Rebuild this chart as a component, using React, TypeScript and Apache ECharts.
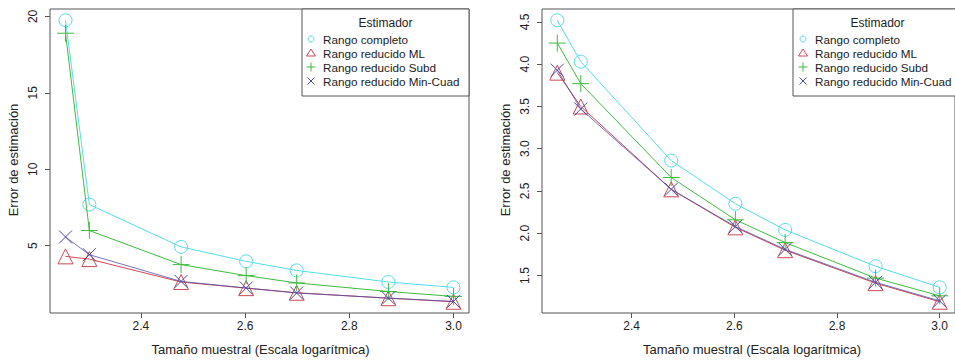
import React, { useEffect, useRef } from "react";
import * as echarts from "echarts";

const sampleSizes = [180, 200, 300, 400, 500, 750, 1000];
const seriesNames = [
  "Rango completo",
  "Rango reducido ML",
  "Rango reducido Subd",
  "Rango reducido Min-Cuad",
];

// Left panel
const completoL = [19.75, 7.69, 4.92, 3.97, 3.38, 2.62, 2.27];
const mlL = [4.3, 4.12, 2.62, 2.22, 1.92, 1.56, 1.33];
const subdL = [18.9, 5.99, 3.76, 3.04, 2.56, 2.0, 1.68];
const minCuadL = [5.57, 4.41, 2.66, 2.23, 1.9, 1.57, 1.35];

// Right panel
const completoR = [4.52, 4.03, 2.86, 2.35, 2.04, 1.61, 1.36];
const mlR = [3.9, 3.5, 2.52, 2.07, 1.8, 1.41, 1.19];
const subdR = [4.25, 3.77, 2.66, 2.16, 1.89, 1.47, 1.26];
const minCuadR = [3.93, 3.47, 2.52, 2.08, 1.81, 1.42, 1.2];

const xTicks = [2.4, 2.6, 2.8, 3.0];
const yTicksL = [5, 10, 15, 20];
const yTicksR = [1.5, 2.0, 2.5, 3.0, 3.5, 4.0, 4.5];

const COLORS = ["#55dde6", "#cc4a55", "#3fbb3f", "#4a4aa8"];
const PLUS = "path://M0,-10L0,10M-10,0L10,0";
const CROSS = "path://M-10,-10L10,10M-10,10L10,-10";
const SYMBOLS = ["circle", "triangle", PLUS, CROSS];
const SIZES = [13, 15, 17, 13];

const FONT = "Liberation Sans, Arial, sans-serif";

function rRange(vals: number[]) {
  const mn = Math.min(...vals);
  const mx = Math.max(...vals);
  const d = (mx - mn) * 0.04;
  return [mn - d, mx + d];
}

export default function App() {
  const ref = useRef<HTMLDivElement>(null);
  useEffect(() => {
    if (!ref.current) return;
    const chart = echarts.init(ref.current, null, { renderer: "svg" });
    const xs = sampleSizes.map((n) => Math.log10(n));
    const [xmin, xmax] = rRange(xs);
    const leftData = [completoL, mlL, subdL, minCuadL];
    const rightData = [completoR, mlR, subdR, minCuadR];
    const [ylMin, ylMax] = rRange(leftData.flat());
    const [yrMin, yrMax] = rRange(rightData.flat());

    const grids = [
      { left: 50, top: 9, width: 419, height: 304 },
      { left: 542, top: 9, width: 420, height: 304 },
    ];

    const xAxis = [0, 1].map((i) => ({
      type: "value",
      gridIndex: i,
      min: xmin,
      max: xmax,
      splitLine: { show: false },
      axisLine: { show: false },
      axisTick: {
        show: true,
        inside: false,
        length: 5,
        customValues: xTicks,
        lineStyle: { color: "#555" },
      },
      axisLabel: {
        customValues: xTicks,
        formatter: (v: number) => v.toFixed(1),
        fontFamily: FONT,
        fontSize: 12,
        color: "#222",
        margin: 7,
      },
    }));

    const mkY = (i: number, mn: number, mx: number, ticks: number[], dec: number) => ({
      type: "value",
      gridIndex: i,
      min: mn,
      max: mx,
      splitLine: { show: false },
      axisLine: { show: false },
      axisTick: {
        show: true,
        inside: false,
        length: 5,
        customValues: ticks,
        lineStyle: { color: "#555" },
      },
      axisLabel: {
        customValues: ticks,
        rotate: 90,
        formatter: (v: number) => v.toFixed(dec),
        fontFamily: FONT,
        fontSize: 12,
        color: "#222",
        margin: 11,
      },
    });

    const series: any[] = [];
    [leftData, rightData].forEach((dataSet, gi) => {
      dataSet.forEach((vals, si) => {
        series.push({
          type: "line",
          name: seriesNames[si],
          xAxisIndex: gi,
          yAxisIndex: gi,
          data: xs.map((x, k) => [x, vals[k]]),
          symbol: SYMBOLS[si],
          symbolSize: SIZES[si],
          showAllSymbol: true,
          lineStyle: { color: COLORS[si], width: 1, opacity: si === 3 ? 0.75 : 1 },
          itemStyle: { color: "transparent", borderColor: COLORS[si], borderWidth: 1 },
          emphasis: { disabled: true },
          z: 2 + si,
        });
      });
    });

    const legendGraphic = (bx: number, bw: number, mx: number, tx: number) => {
      const rows = [39, 53, 67, 81];
      const els: any[] = [
        {
          type: "rect",
          shape: { x: bx, y: 9, width: bw, height: 87 },
          style: { fill: "#fff", stroke: "#555", lineWidth: 1 },
          z: 100,
        },
        {
          type: "text",
          x: bx + bw / 2,
          y: 23,
          style: {
            text: "Estimador",
            fontFamily: FONT,
            fontSize: 12,
            fill: "#222",
            align: "center",
            verticalAlign: "middle",
          },
          z: 101,
        },
      ];
      rows.forEach((ry, i) => {
        const c = COLORS[i];
        if (i === 0) {
          els.push({ type: "circle", shape: { cx: mx, cy: ry, r: 3 }, style: { fill: "none", stroke: c, lineWidth: 1 }, z: 101 });
        } else if (i === 1) {
          els.push({ type: "polygon", shape: { points: [[mx, ry - 4], [mx - 4.5, ry + 3], [mx + 4.5, ry + 3]] }, style: { fill: "none", stroke: c, lineWidth: 1 }, z: 101 });
        } else if (i === 2) {
          els.push({ type: "line", shape: { x1: mx - 4.5, y1: ry, x2: mx + 4.5, y2: ry }, style: { stroke: c, lineWidth: 1 }, z: 101 });
          els.push({ type: "line", shape: { x1: mx, y1: ry - 4.5, x2: mx, y2: ry + 4.5 }, style: { stroke: c, lineWidth: 1 }, z: 101 });
        } else {
          els.push({ type: "line", shape: { x1: mx - 3.5, y1: ry - 3.5, x2: mx + 3.5, y2: ry + 3.5 }, style: { stroke: c, lineWidth: 1 }, z: 101 });
          els.push({ type: "line", shape: { x1: mx - 3.5, y1: ry + 3.5, x2: mx + 3.5, y2: ry - 3.5 }, style: { stroke: c, lineWidth: 1 }, z: 101 });
        }
        els.push({
          type: "text",
          x: tx,
          y: ry,
          style: {
            text: seriesNames[i],
            fontFamily: FONT,
            fontSize: 11.7,
            fill: "#222",
            align: "left",
            verticalAlign: "middle",
          },
          z: 101,
        });
      });
      return els;
    };

    const axisTitles = [
      { x: 13, y: 160, rot: Math.PI / 2, text: "Error de estimación" },
      { x: 505, y: 160, rot: Math.PI / 2, text: "Error de estimación" },
      { x: 260.5, y: 349, rot: 0, text: "Tamaño muestral (Escala logarítmica)" },
      { x: 752, y: 349, rot: 0, text: "Tamaño muestral (Escala logarítmica)" },
    ].map((t) => ({
      type: "text",
      x: t.x,
      y: t.y,
      rotation: t.rot,
      style: {
        text: t.text,
        fontFamily: FONT,
        fontSize: 13,
        fill: "#222",
        align: "center",
        verticalAlign: "middle",
      },
    }));

    chart.setOption({
      animation: false,
      backgroundColor: "#fff",
      grid: grids.map((g) => ({ ...g, show: true, borderColor: "#555", borderWidth: 1, backgroundColor: "transparent" })),
      xAxis,
      yAxis: [mkY(0, ylMin, ylMax, yTicksL, 0), mkY(1, yrMin, yrMax, yTicksR, 1)],
      series,
      graphic: [
        ...legendGraphic(302, 167, 311, 323),
        ...legendGraphic(793, 169, 803, 815),
        ...axisTitles,
      ],
    });
    return () => chart.dispose();
  }, []);
  return (
    <div
      ref={ref}
      style={{ position: "fixed", left: 0, top: 0, width: 955, height: 362 }}
    />
  );
}
